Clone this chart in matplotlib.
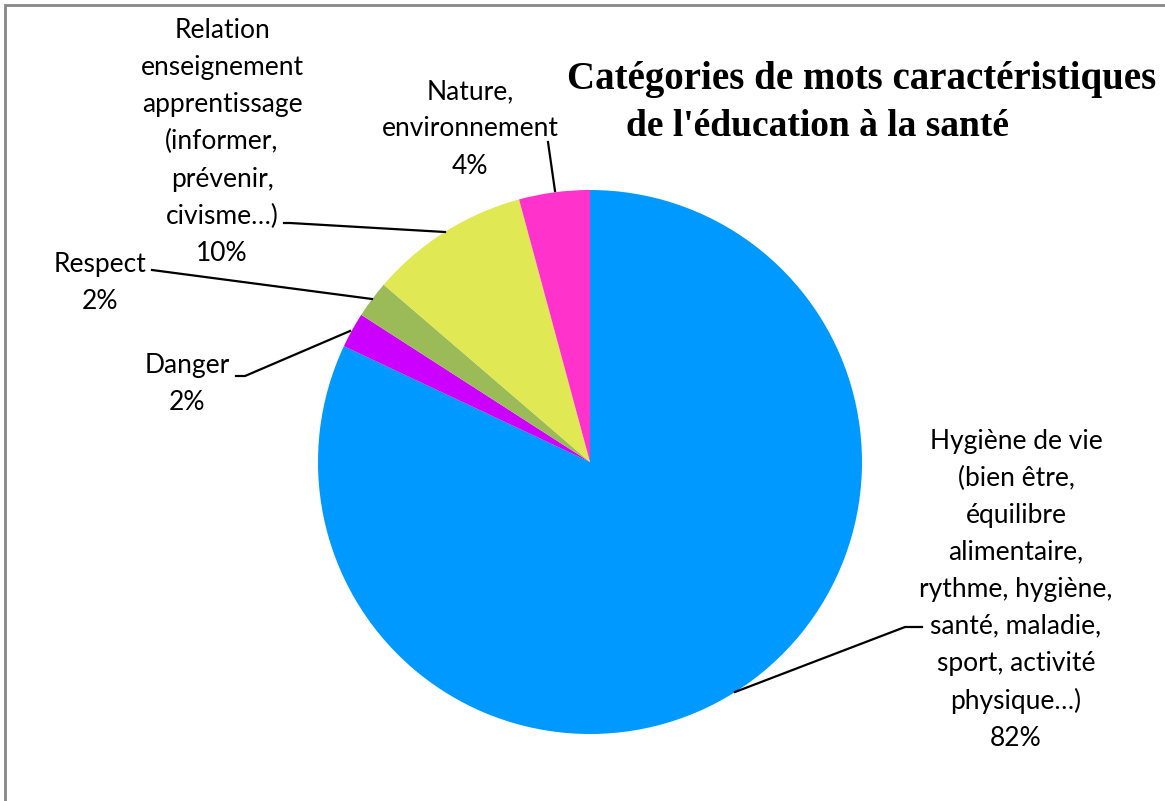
import numpy as np
import matplotlib.pyplot as plt
from matplotlib.patches import Rectangle

# slice shares (clockwise from 12 o'clock)
categories = [
    "Hygiène de vie\n(bien être,\néquilibre\nalimentaire,\nrythme, hygiène,\nsanté, maladie,\nsport, activité\nphysique…)",
    "Danger",
    "Respect",
    "Relation\nenseignement\napprentissage\n(informer,\nprévenir,\ncivisme…)",
    "Nature,\nenvironnement",
]
shares = [82.0, 2.1, 2.2, 9.5, 4.2]
pct_labels = ["82%", "2%", "2%", "10%", "4%"]
colors = ["#0099FF", "#CC00FF", "#9BBB59", "#E0E854", "#FF33CC"]

title_lines = ["Catégories de mots caractéristiques", "de l'éducation à la santé"]

W, H = 1165, 801
fig = plt.figure(figsize=(W / 100, H / 100), dpi=100)

# pie centre (590, 462) px, radius 272 px
cx, cy, r = 590, 462, 272
ax = fig.add_axes([(cx - r) / W, (H - cy - r) / H, 2 * r / W, 2 * r / H])
wedges, _ = ax.pie(shares, colors=colors, startangle=90, counterclock=False,
                   radius=1, wedgeprops=dict(linewidth=0))
ax.set_xlim(-1, 1)
ax.set_ylim(-1, 1)
ax.set_aspect("equal")
ax.axis("off")


def px(x, y):
    return ((x - cx) / r, (cy - y) / r)


# label layout: (text centre px, leader path px)
layout = [
    ((1016, 590), [(735, 692), (905, 627), (922, 627)]),
    ((187, 384), [(350, 331), (245, 376), (236, 376)]),
    ((100, 283), [(372, 299), (152, 270)]),
    ((222, 142), [(445, 232), (290, 223), (284, 223)]),
    ((470, 129), [(555, 191), (548, 142)]),
]

for cat, pct, (pos, path) in zip(categories, pct_labels, layout):
    tx, ty = px(*pos)
    ax.text(tx, ty, cat + "\n" + pct, ha="center", va="center", fontsize=19,
            family="Lato", linespacing=1.6, clip_on=False)
    xs, ys = zip(*[px(*p) for p in path])
    ax.plot(xs, ys, color="black", lw=1.6, clip_on=False)

fig.text(862 / W, 1 - 80 / H, title_lines[0], ha="center", va="center",
         fontsize=28, fontweight="bold", family="Liberation Serif")
fig.text(817 / W, 1 - 126 / H, title_lines[1], ha="center", va="center",
         fontsize=27, fontweight="bold", family="Liberation Serif")

# chart frame (only left and top edges visible)
fig.add_artist(Rectangle((5 / W, -0.1), 1.2, 1 - 5 / H + 0.1, transform=fig.transFigure,
                         fill=False, edgecolor="#888888", lw=2))

fig.savefig("out.png", dpi=100, facecolor="white")
